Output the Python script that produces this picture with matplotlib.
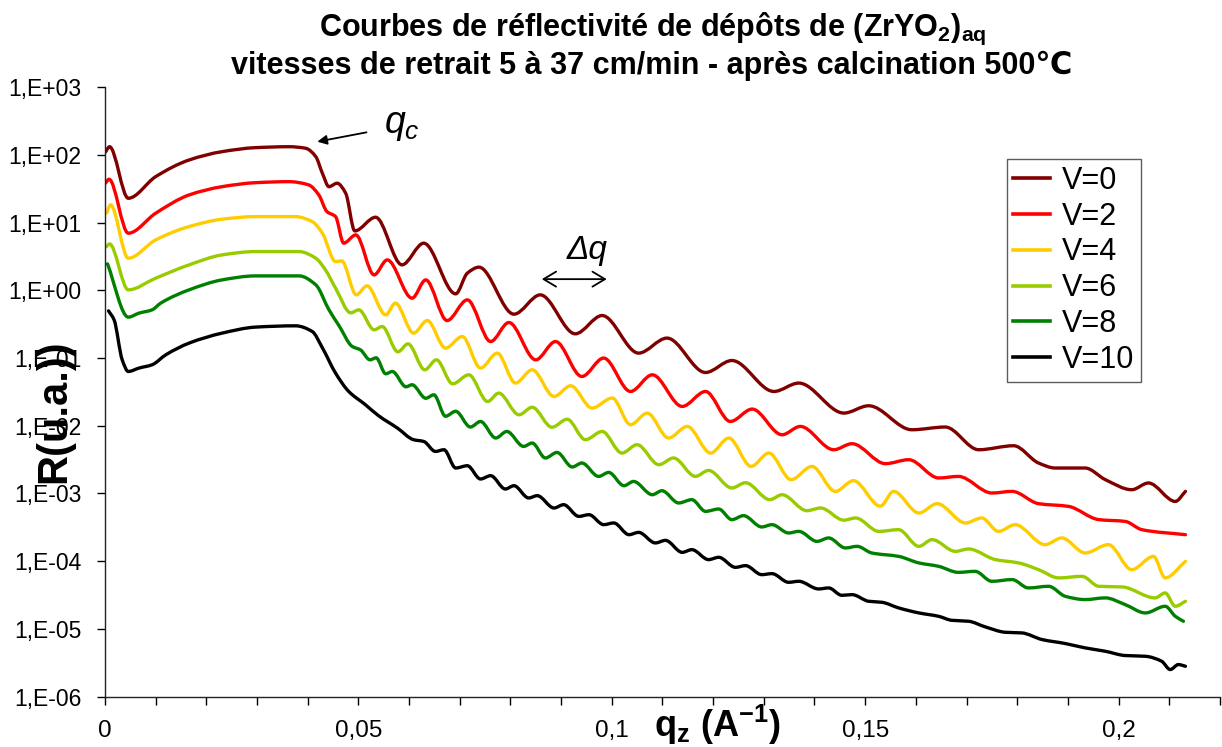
import numpy as np
import matplotlib
matplotlib.use("Agg")
import matplotlib.pyplot as plt
from matplotlib.ticker import FixedLocator, FuncFormatter, MultipleLocator
from matplotlib.path import Path
from matplotlib.patches import PathPatch
from matplotlib.lines import Line2D

plt.rcParams['font.family'] = ['Liberation Sans', 'DejaVu Sans']
plt.rcParams['mathtext.fontset'] = 'custom'
plt.rcParams['mathtext.rm'] = 'Liberation Sans'
plt.rcParams['mathtext.it'] = 'Liberation Sans:italic'
plt.rcParams['mathtext.bf'] = 'Liberation Sans:bold'

# ---------------- data ----------------
labels = ["V=0", "V=2", "V=4", "V=6", "V=8", "V=10"]
colors = ["#800000", "#FF0000", "#FFCC00", "#99CC00", "#008000", "#000000"]

q_v0 = [0.0001, 0.0009, 0.0046, 0.0100, 0.0166, 0.0231, 0.0297, 0.0363, 0.0396, 0.0416,
        0.0429, 0.0442, 0.0458, 0.0475, 0.0493, 0.0534, 0.0586, 0.0629, 0.0692, 0.0715,
        0.0738, 0.0807, 0.0859, 0.0928, 0.0981, 0.1053, 0.1109, 0.1185, 0.1237, 0.1320,
        0.1369, 0.1458, 0.1507, 0.1592, 0.1658, 0.1724, 0.1793, 0.1842, 0.1875, 0.1934,
        0.1974, 0.2026, 0.2059, 0.2112, 0.2132]
logR_v0 = [2.041, 2.119, 1.358, 1.677, 1.923, 2.046, 2.105, 2.119, 2.096, 1.972,
           1.727, 1.529, 1.580, 1.432, 0.876, 1.078, 0.375, 0.695, -0.053, 0.252,
           0.341, -0.353, -0.068, -0.643, -0.373, -0.928, -0.706, -1.214, -1.037, -1.494,
           -1.370, -1.813, -1.705, -2.059, -2.019, -2.354, -2.295, -2.550, -2.624, -2.624,
           -2.796, -2.944, -2.845, -3.117, -2.969]

q_v2 = [0.0001, 0.0008, 0.0046, 0.0100, 0.0166, 0.0231, 0.0297, 0.0363, 0.0402, 0.0422,
        0.0438, 0.0455, 0.0471, 0.0495, 0.0531, 0.0557, 0.0606, 0.0633, 0.0675, 0.0715,
        0.0761, 0.0797, 0.0850, 0.0889, 0.0941, 0.0984, 0.1037, 0.1080, 0.1139, 0.1185,
        0.1234, 0.1277, 0.1336, 0.1372, 0.1438, 0.1474, 0.1540, 0.1586, 0.1645, 0.1684,
        0.1750, 0.1790, 0.1842, 0.1901, 0.1961, 0.2013, 0.2046, 0.2132]
logR_v2 = [1.580, 1.639, 0.842, 1.137, 1.407, 1.529, 1.588, 1.603, 1.555, 1.407,
           1.161, 1.087, 0.695, 0.817, 0.227, 0.448, -0.117, 0.153, -0.447, -0.142,
           -0.757, -0.476, -1.027, -0.757, -1.273, -1.001, -1.494, -1.248, -1.715, -1.494,
           -1.937, -1.754, -2.133, -2.010, -2.354, -2.265, -2.560, -2.501, -2.771, -2.748,
           -2.993, -2.969, -3.150, -3.190, -3.386, -3.412, -3.534, -3.608]

q_v4 = [0.0003, 0.0011, 0.0046, 0.0100, 0.0166, 0.0231, 0.0297, 0.0376, 0.0409, 0.0429,
        0.0455, 0.0467, 0.0496, 0.0517, 0.0554, 0.0573, 0.0609, 0.0636, 0.0672, 0.0705,
        0.0741, 0.0774, 0.0810, 0.0843, 0.0886, 0.0919, 0.0961, 0.1001, 0.1037, 0.1070,
        0.1112, 0.1149, 0.1195, 0.1231, 0.1275, 0.1310, 0.1354, 0.1395, 0.1441, 0.1477,
        0.1530, 0.1556, 0.1606, 0.1642, 0.1698, 0.1730, 0.1763, 0.1796, 0.1855, 0.1888,
        0.1934, 0.1980, 0.2026, 0.2069, 0.2092, 0.2132]
logR_v4 = [1.137, 1.260, 0.473, 0.743, 0.940, 1.049, 1.087, 1.087, 1.013, 0.842,
           0.423, 0.434, -0.068, 0.065, -0.363, -0.190, -0.633, -0.447, -0.854, -0.683,
           -1.149, -0.928, -1.370, -1.174, -1.568, -1.410, -1.739, -1.591, -1.985, -1.813,
           -2.181, -2.010, -2.403, -2.181, -2.600, -2.403, -2.796, -2.600, -2.969, -2.811,
           -3.187, -2.969, -3.288, -3.150, -3.435, -3.361, -3.559, -3.460, -3.755, -3.656,
           -3.878, -3.755, -4.124, -3.928, -4.246, -4.001]

q_v6 = [0.0003, 0.0009, 0.0046, 0.0100, 0.0166, 0.0231, 0.0297, 0.0383, 0.0416, 0.0435,
        0.0455, 0.0485, 0.0501, 0.0531, 0.0547, 0.0578, 0.0598, 0.0631, 0.0654, 0.0686,
        0.0718, 0.0755, 0.0777, 0.0817, 0.0843, 0.0882, 0.0912, 0.0948, 0.0981, 0.1020,
        0.1050, 0.1093, 0.1122, 0.1165, 0.1191, 0.1237, 0.1264, 0.1312, 0.1336, 0.1385,
        0.1412, 0.1458, 0.1481, 0.1527, 0.1566, 0.1606, 0.1632, 0.1678, 0.1704, 0.1757,
        0.1803, 0.1842, 0.1882, 0.1928, 0.1961, 0.2007, 0.2072, 0.2092, 0.2112, 0.2132]
logR_v6 = [0.645, 0.684, 0.006, 0.178, 0.375, 0.522, 0.571, 0.571, 0.473, 0.301,
           0.031, -0.333, -0.289, -0.584, -0.535, -0.909, -0.791, -1.174, -1.027, -1.381,
           -1.248, -1.642, -1.518, -1.838, -1.727, -2.022, -1.904, -2.206, -2.084, -2.403,
           -2.280, -2.575, -2.476, -2.748, -2.659, -2.919, -2.841, -3.091, -3.018, -3.254,
           -3.214, -3.394, -3.361, -3.559, -3.534, -3.780, -3.681, -3.854, -3.819, -3.976,
           -4.025, -4.124, -4.246, -4.223, -4.370, -4.379, -4.541, -4.468, -4.665, -4.591]

q_v8 = [0.0005, 0.0046, 0.0067, 0.0093, 0.0110, 0.0166, 0.0231, 0.0297, 0.0383, 0.0416,
        0.0442, 0.0462, 0.0488, 0.0504, 0.0523, 0.0535, 0.0554, 0.0567, 0.0594, 0.0606,
        0.0633, 0.0649, 0.0672, 0.0692, 0.0721, 0.0741, 0.0771, 0.0793, 0.0826, 0.0843,
        0.0869, 0.0892, 0.0922, 0.0941, 0.0974, 0.0994, 0.1024, 0.1043, 0.1080, 0.1099,
        0.1132, 0.1158, 0.1185, 0.1211, 0.1237, 0.1260, 0.1296, 0.1316, 0.1349, 0.1369,
        0.1405, 0.1428, 0.1461, 0.1484, 0.1513, 0.1566, 0.1606, 0.1645, 0.1684, 0.1717,
        0.1750, 0.1790, 0.1822, 0.1862, 0.1895, 0.1934, 0.1974, 0.2013, 0.2053, 0.2092,
        0.2112, 0.2128]
logR_v8 = [0.389, -0.397, -0.338, -0.289, -0.190, 0.006, 0.153, 0.212, 0.212, 0.080,
           -0.289, -0.525, -0.830, -0.879, -1.027, -0.997, -1.233, -1.199, -1.425, -1.395,
           -1.594, -1.543, -1.860, -1.786, -2.019, -1.937, -2.181, -2.084, -2.305, -2.255,
           -2.476, -2.394, -2.609, -2.550, -2.748, -2.689, -2.885, -2.822, -3.018, -2.959,
           -3.140, -3.091, -3.264, -3.229, -3.386, -3.327, -3.494, -3.460, -3.583, -3.559,
           -3.707, -3.656, -3.804, -3.780, -3.878, -3.928, -4.025, -4.075, -4.164, -4.149,
           -4.296, -4.271, -4.394, -4.370, -4.518, -4.566, -4.541, -4.640, -4.763, -4.665,
           -4.813, -4.886]

q_v10 = [0.0007, 0.0018, 0.0034, 0.0046, 0.0067, 0.0093, 0.0120, 0.0166, 0.0231, 0.0297,
         0.0376, 0.0409, 0.0429, 0.0455, 0.0481, 0.0514, 0.0540, 0.0577, 0.0609, 0.0629,
         0.0652, 0.0669, 0.0692, 0.0715, 0.0741, 0.0761, 0.0790, 0.0807, 0.0836, 0.0853,
         0.0886, 0.0905, 0.0935, 0.0955, 0.0984, 0.1004, 0.1034, 0.1053, 0.1086, 0.1106,
         0.1139, 0.1158, 0.1191, 0.1211, 0.1244, 0.1264, 0.1296, 0.1316, 0.1349, 0.1369,
         0.1408, 0.1428, 0.1454, 0.1474, 0.1507, 0.1533, 0.1566, 0.1606, 0.1645, 0.1671,
         0.1704, 0.1737, 0.1777, 0.1809, 0.1849, 0.1895, 0.1934, 0.1974, 0.2013, 0.2053,
         0.2085, 0.2102, 0.2118, 0.2132]
logR_v10 = [-0.304, -0.437, -1.027, -1.199, -1.149, -1.100, -0.953, -0.780, -0.633, -0.544,
            -0.525, -0.609, -0.850, -1.223, -1.494, -1.690, -1.853, -2.034, -2.206, -2.232,
            -2.379, -2.354, -2.624, -2.590, -2.786, -2.737, -2.934, -2.885, -3.066, -3.032,
            -3.214, -3.165, -3.338, -3.313, -3.460, -3.435, -3.608, -3.574, -3.730, -3.692,
            -3.869, -3.829, -3.976, -3.942, -4.090, -4.065, -4.198, -4.183, -4.311, -4.296,
            -4.409, -4.394, -4.503, -4.493, -4.591, -4.606, -4.689, -4.763, -4.813, -4.872,
            -4.886, -4.969, -5.049, -5.058, -5.156, -5.215, -5.279, -5.329, -5.392, -5.403,
            -5.476, -5.599, -5.525, -5.550]

series_q = [q_v0, q_v2, q_v4, q_v6, q_v8, q_v10]
series_logR = [logR_v0, logR_v2, logR_v4, logR_v6, logR_v8, logR_v10]

x_major = [0, 0.05, 0.1, 0.15, 0.2]
y_decades = list(range(-6, 4))


def smooth_path(xs, ys):
    """Bezier path through the read points (monotone Hermite tangents, log space)."""
    x = np.asarray(xs, float)
    y = np.asarray(ys, float)
    h = np.diff(x)
    d = np.diff(y) / h
    m = np.zeros_like(y)
    m[0], m[-1] = d[0], d[-1]
    for i in range(1, len(y) - 1):
        if d[i - 1] * d[i] > 0:
            w1 = 2 * h[i] + h[i - 1]
            w2 = h[i] + 2 * h[i - 1]
            m[i] = (w1 + w2) / (w1 / d[i - 1] + w2 / d[i])
    verts = [(x[0], y[0])]
    codes = [Path.MOVETO]
    for i in range(len(x) - 1):
        verts += [(x[i] + h[i] / 3, y[i] + m[i] * h[i] / 3),
                  (x[i + 1] - h[i] / 3, y[i + 1] - m[i + 1] * h[i] / 3),
                  (x[i + 1], y[i + 1])]
        codes += [Path.CURVE4] * 3
    verts = np.array(verts)
    verts[:, 1] = 10 ** verts[:, 1]
    return Path(verts, codes)


# ---------------- figure ----------------
fig = plt.figure(figsize=(12.22, 7.47), dpi=100)
ax = fig.add_axes([0.0859, 0.0673, 0.9124, 0.8162])

ax.set_yscale('log')
ax.set_ylim(1e-6, 1e3)
ax.set_xlim(0, 0.22)

handles = []
for q, lr, c, lab in zip(series_q, series_logR, colors, labels):
    patch = PathPatch(smooth_path(q, lr), facecolor='none', edgecolor=c, lw=2.4,
                      capstyle='round', joinstyle='round')
    ax.add_patch(patch)
    handles.append(Line2D([], [], color=c, lw=2.6, label=lab))

ax.yaxis.set_major_locator(FixedLocator([10.0 ** d for d in y_decades]))
ax.yaxis.set_minor_locator(FixedLocator([]))
ax.yaxis.set_major_formatter(FuncFormatter(
    lambda v, p: "1,E{:+03d}".format(int(round(np.log10(v))))))

ax.xaxis.set_major_locator(FixedLocator(x_major))
ax.xaxis.set_minor_locator(MultipleLocator(0.01))
ax.xaxis.set_major_formatter(FuncFormatter(
    lambda v, p: ("%g" % round(v, 4)).replace('.', ',')))

for s in ['top', 'right']:
    ax.spines[s].set_visible(False)
for s in ['left', 'bottom']:
    ax.spines[s].set_linewidth(1.0)
    ax.spines[s].set_color('#222222')

ax.tick_params(axis='y', which='major', direction='out', length=6, width=1,
               labelsize=16.5, pad=11)
ax.tick_params(axis='x', which='both', direction='out', length=6, width=1,
               labelsize=17.5, pad=11)

ax.set_ylabel("R(u.a.))", fontsize=30, fontweight='bold')
ax.yaxis.set_label_coords(-0.0457, 0.469)
ax.yaxis.label.set_va('center')
ax.set_xlabel(r"$\mathbf{q_z}$ (A$^{\mathbf{-1}}$)", fontsize=26, fontweight='bold')
ax.xaxis.set_label_coords(0.549, -0.047)
ax.xaxis.label.set_va('center')

fig.text(0.534, 0.961, r"Courbes de réflectivité de dépôts de (ZrYO$_\mathbf{2}$)$_\mathbf{aq}$",
         ha='center', va='center', fontsize=22, fontweight='bold')
fig.text(0.533, 0.9116, "vitesses de retrait 5 à 37 cm/min - après calcination 500℃",
         ha='center', va='center', fontsize=22, fontweight='bold')

leg = ax.legend(handles=handles, loc='upper left', bbox_to_anchor=(0.8087, 0.8818),
                borderaxespad=0, fontsize=22, frameon=True, fancybox=False,
                edgecolor='#333333', handlelength=1.2, handletextpad=0.4,
                labelspacing=0.19, borderpad=0.22)
leg.get_frame().set_linewidth(1.0)

# annotations
ax.annotate("", xy=(0.0419, 10 ** 2.193), xytext=(0.0516, 10 ** 2.331),
            arrowprops=dict(arrowstyle='-|>', color='black', lw=1.3,
                            mutation_scale=14, shrinkA=0, shrinkB=0))
ax.text(0.0585, 10 ** 2.439, r"$q_c$", fontsize=27, ha='center', va='center')

ax.annotate("", xy=(0.0862, 10 ** 0.164), xytext=(0.0990, 10 ** 0.164),
            arrowprops=dict(arrowstyle='<->,head_length=0.5,head_width=0.3',
                            color='black', lw=1.3, mutation_scale=18,
                            shrinkA=0, shrinkB=0))
ax.text(0.0951, 10 ** 0.594, "Δq", fontsize=24, fontstyle='italic',
        ha='center', va='center')

fig.savefig("out.png", dpi=100)
